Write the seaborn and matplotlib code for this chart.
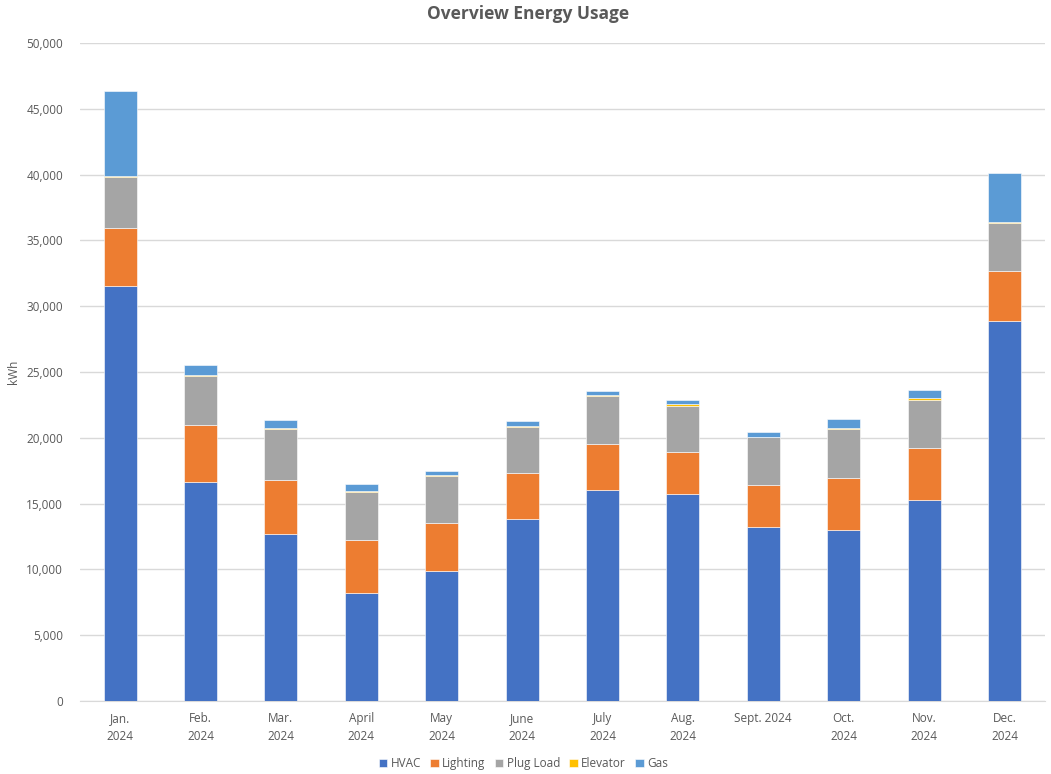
import numpy as np
import pandas as pd
import matplotlib
matplotlib.use("Agg")
import matplotlib.pyplot as plt
import seaborn as sns

months = ["Jan.\n2024", "Feb.\n2024", "Mar.\n2024", "April\n2024", "May\n2024", "June\n2024",
          "July\n2024", "Aug.\n2024", "Sept. 2024", "Oct.\n2024", "Nov.\n2024", "Dec.\n2024"]
hvac = [31500, 16650, 12700, 8200, 9850, 13800, 16050, 15700, 13200, 12970, 15300, 28900]
lighting = [4450, 4300, 4100, 4000, 3650, 3550, 3500, 3200, 3200, 3980, 3900, 3750]
plug_load = [3850, 3750, 3900, 3700, 3600, 3500, 3650, 3550, 3650, 3700, 3700, 3700]
elevator = [60, 100, 60, 60, 50, 50, 50, 100, 50, 100, 100, 50]
gas = [6500, 700, 600, 500, 350, 350, 300, 300, 330, 700, 600, 3750]

series = {"HVAC": hvac, "Lighting": lighting, "Plug Load": plug_load, "Elevator": elevator, "Gas": gas}
colors = {"HVAC": "#4472C4", "Lighting": "#ED7D31", "Plug Load": "#A5A5A5",
          "Elevator": "#FFC000", "Gas": "#5B9BD5"}

sns.set_style("white")
plt.rcParams['font.family'] = ['Open Sans', 'DejaVu Sans']
txt = "#595959"

fig = plt.figure(figsize=(10.51, 7.74), dpi=100)
ax = fig.add_axes([0.076, 0.0943, 0.918, 0.8501])

bottom = np.zeros(len(months))
for name, vals in series.items():
    df = pd.DataFrame({"month": months, "value": vals})
    sns.barplot(data=df, x="month", y="value", color=colors[name], bottom=bottom, saturation=1,
                width=0.41, ax=ax, label=name, edgecolor="white", linewidth=0.4, zorder=3)
    bottom = bottom + np.array(vals)

ax.set_ylim(0, 50000)
ax.set_xlim(-0.5, len(months) - 0.5)
ax.set_yticks(range(0, 50001, 5000))
ax.yaxis.set_major_formatter(matplotlib.ticker.FuncFormatter(lambda v, p: f"{int(v):,}"))
ax.grid(axis="y", color="#D9D9D9", linewidth=1, zorder=0)
for s in ["top", "right", "left"]:
    ax.spines[s].set_visible(False)
ax.spines["bottom"].set_color("#D9D9D9")
ax.tick_params(axis="both", length=0, labelsize=8.5, colors=txt, pad=8)
ax.tick_params(axis="y", pad=12)
for lbl in ax.get_xticklabels():
    lbl.set_linespacing(1.5)
ax.set_xlabel("")
ax.set_ylabel("kWh", fontsize=8.5, color=txt)
ax.yaxis.set_label_coords(-0.062, 0.5)
fig.text(0.502, 0.982, "Overview Energy Usage", fontsize=12.5, fontweight="bold",
         color=txt, ha="center", va="center")

fig.legend(*ax.get_legend_handles_labels(), loc="center", bbox_to_anchor=(0.498, 0.013), ncol=5,
           frameon=False, fontsize=8.5, labelcolor=txt, handlelength=0.7, handleheight=0.7,
           handletextpad=0.3, columnspacing=0.8)
ax.get_legend().remove() if ax.get_legend() else None

fig.savefig("out.png", dpi=100)
